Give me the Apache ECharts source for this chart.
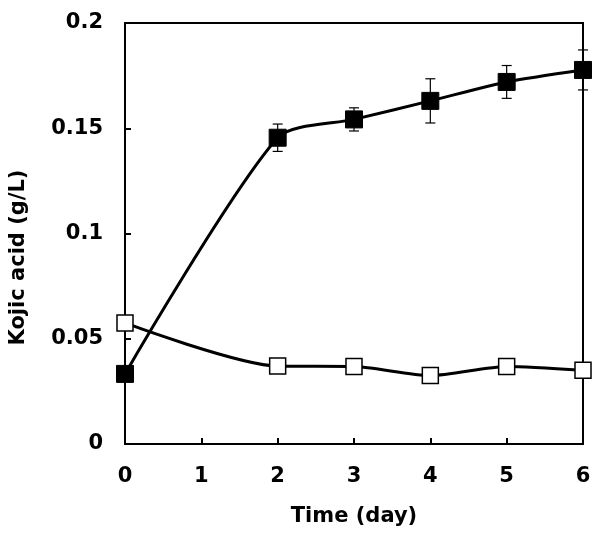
<!DOCTYPE html>
<html>
<head>
<meta charset="utf-8">
<script src="https://cdn.jsdelivr.net/npm/echarts@6/dist/echarts.min.js"></script>
<style>html,body{margin:0;padding:0;background:#fff}#c{width:600px;height:539px}</style>
</head>
<body>
<div id="c"></div>
<script>
const days = [0, 2, 3, 4, 5, 6];
const filledValues = [0.0333, 0.1455, 0.1542, 0.1630, 0.1720, 0.1777];
const filledErrors = [0, 0.0065, 0.0055, 0.0105, 0.0078, 0.0095];
const openValues = [0.0575, 0.0370, 0.0368, 0.0325, 0.0368, 0.0350];
const yTicks = [0, 0.05, 0.1, 0.15, 0.2];
const xTicks = [0, 1, 2, 3, 4, 5, 6];

const chart = echarts.init(document.getElementById('c'));
const font = '"DejaVu Sans", "Liberation Sans", Arial, sans-serif';
const errData = days.map((d, i) => [d, filledValues[i] - filledErrors[i], filledValues[i] + filledErrors[i]]).filter((r, i) => filledErrors[i] > 0);

chart.setOption({
  animation: false,
  grid: { left: 124, top: 23, right: 17, bottom: 95, show: true, borderColor: '#000', borderWidth: 2, backgroundColor: 'transparent' },
  xAxis: {
    type: 'value', min: xTicks[0], max: xTicks[xTicks.length - 1], interval: 1,
    name: 'Time (day)', nameLocation: 'middle', nameGap: 62,
    nameTextStyle: { color: '#000', fontFamily: font, fontWeight: 'bold', fontSize: 21 },
    axisLine: { lineStyle: { color: '#000', width: 2 } },
    axisTick: { inside: true, length: 6, lineStyle: { color: '#000', width: 2 } },
    axisLabel: { color: '#000', fontFamily: font, fontWeight: 'bold', fontSize: 21, margin: 22 },
    splitLine: { show: false }
  },
  yAxis: {
    type: 'value', min: yTicks[0], max: yTicks[yTicks.length - 1], interval: 0.05,
    name: 'Kojic acid (g/L)', nameLocation: 'middle', nameGap: 96, nameRotate: 90,
    nameTextStyle: { color: '#000', fontFamily: font, fontWeight: 'bold', fontSize: 21, padding: [0, 48, 0, 0] },
    axisLine: { lineStyle: { color: '#000', width: 2 } },
    axisTick: { inside: true, length: 6, lineStyle: { color: '#000', width: 2 } },
    axisLabel: { color: '#000', fontFamily: font, fontWeight: 'bold', fontSize: 21, margin: 22 },
    splitLine: { show: false }
  },
  series: [
    {
      type: 'custom', z: 1,
      data: errData,
      renderItem: function (params, api) {
        const x = api.value(0);
        const lo = api.coord([x, api.value(1)]);
        const hi = api.coord([x, api.value(2)]);
        const w = 5;
        const st = { stroke: '#000', lineWidth: 1.2 };
        return { type: 'group', children: [
          { type: 'line', shape: { x1: hi[0], y1: hi[1], x2: lo[0], y2: lo[1] }, style: st },
          { type: 'line', shape: { x1: hi[0] - w, y1: hi[1], x2: hi[0] + w, y2: hi[1] }, style: st },
          { type: 'line', shape: { x1: lo[0] - w, y1: lo[1], x2: lo[0] + w, y2: lo[1] }, style: st }
        ]};
      }
    },
    {
      type: 'line', z: 3, smooth: 0.25,
      data: days.map((d, i) => [d, openValues[i]]),
      symbol: 'rect', symbolSize: 16,
      lineStyle: { color: '#000', width: 3 },
      itemStyle: { color: '#fff', borderColor: '#000', borderWidth: 1.5 }
    },
    {
      type: 'line', z: 4, smooth: 0.25,
      data: days.map((d, i) => [d, filledValues[i]]),
      symbol: 'rect', symbolSize: 17,
      lineStyle: { color: '#000', width: 3 },
      itemStyle: { color: '#000', borderColor: '#000', borderWidth: 1 }
    }
  ]
});
</script>
</body>
</html>
